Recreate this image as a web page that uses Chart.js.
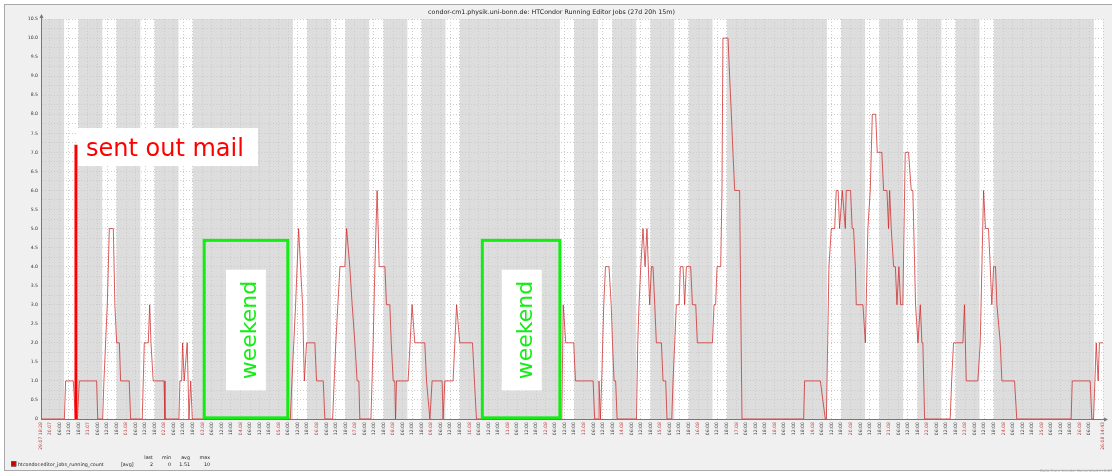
<!DOCTYPE html>
<html>
<head>
<meta charset="utf-8">
<title>HTCondor Running Editor Jobs</title>
<script src="https://cdn.jsdelivr.net/npm/chart.js@4.4.1/dist/chart.umd.min.js"></script>
<style>
  body { margin: 0; background: #fff; }
  canvas { display: block; }
</style>
</head>
<body>
<canvas id="jobsChart" width="1112" height="474"></canvas>
<script>
var hours = [
    0, 14.7, 15.5, 20.3, 21.8, 22.9, 24.1, 35.0, 35.7, 38.8, 39.6, 41.7, 43.0, 45.5, 46.5, 47.6, 49.3, 50.1, 55.5,
    56.4, 63.7, 65.0, 67.5, 68.4, 69.2, 70.6, 77.4, 78.0, 86.8, 87.4, 88.5, 89.1, 90.1, 92.0, 93.1, 94.2, 95.2,
    156.9, 157.9, 160.2, 162.1, 163.3, 164.6, 165.7, 167.1, 172.3, 173.4, 177.6, 178.6, 183.5, 185.5, 186.8, 188.1,
    191.2, 192.3, 194.3, 195.8, 197.5, 198.9, 200.0, 200.6, 207.6, 209.0, 210.1, 211.5, 212.8, 216.4, 217.4, 219.5,
    220.4, 221.6, 222.6, 223.1, 223.7, 231.0, 233.5, 235.2, 241.5, 242.6, 244.7, 246.1, 252.4, 253.0, 254.1, 259.3,
    261.5, 263.5, 271.5, 274.0,
    327.7, 328.6, 330.2, 335.2, 336.3, 347.4, 348.4, 350.5, 351.1, 352.0, 352.8, 354.1, 355.2, 357.4, 358.8, 359.6,
    360.6, 361.6, 362.5, 374.7, 375.5, 376.3, 377.4, 378.8, 380.1, 381.3, 383.0, 384.1, 385.1, 386.2, 387.2, 390.4,
    391.4, 393.1, 393.9, 396.9, 397.7, 399.8, 401.5, 402.3, 404.0, 405.0, 406.1, 408.8, 409.9, 412.0, 413.0, 422.5,
    423.5, 424.5, 425.4, 427.7, 428.5, 429.1, 432.3, 433.3, 434.4, 435.4, 436.5, 439.6, 440.3, 441.1,
    479.9, 480.5, 490.4, 493.5, 494.2, 495.0, 495.8, 497.3, 499.4, 500.4, 501.6, 502.5, 504.2, 506.1, 506.7, 509.4,
    510.4, 511.3, 512.4, 513.0, 517.2, 518.7, 520.3, 521.8, 523.1, 525.2, 526.2, 529.1, 530.2, 532.3, 533.3, 534.0,
    535.0, 536.5, 537.6, 538.6, 539.8, 540.9, 542.3, 543.8, 545.9, 547.6, 548.6, 550.3, 551.8, 553.3, 554.3, 554.9,
    556.0,
    572.1, 573.0, 574.2, 580.1, 581.1, 582.2, 589.5, 591.0, 593.1, 594.3, 596.2, 597.3, 598.3, 599.4, 600.6, 601.5,
    603.6, 604.6, 612.6, 614.0, 648.2, 648.9, 660.2, 661.2, 662.3, 664.0, 665.2, 666.0, 668.25
];
var jobs = [
    0, 0, 1, 1, 0, 0, 1, 1, 0, 0, 1, 3, 5, 5, 3, 2, 2, 1, 1,
    0, 0, 2, 2, 3, 2, 1, 1, 0, 0, 1, 1, 2, 1, 2, 0, 1, 0,
    0, 1, 3, 5, 4, 3, 1, 2, 2, 1, 1, 0, 0, 2, 3, 4,
    4, 5, 4, 3, 2, 1, 1, 0, 0, 2, 4, 6, 4, 4, 3, 3,
    2, 1, 1, 0, 1, 1, 3, 2, 2, 1, 0, 1, 1, 0, 1, 1,
    3, 2, 2, 0,
    0, 3, 2, 2, 1, 1, 0, 0, 1, 0, 1, 3, 4, 4, 3, 2,
    1, 1, 0, 0, 2, 3, 4, 5, 4, 5, 3, 4, 4, 3, 2, 2,
    1, 1, 0, 0, 1, 3, 3, 4, 4, 3, 4, 4, 3, 3, 2, 2,
    3, 3, 4, 4, 6, 10, 10, 9, 8, 7, 6, 6, 3, 0,
    0, 1, 1, 0, 0, 2, 4, 5, 5, 6, 6, 5, 6, 5, 6, 6,
    5, 5, 4, 3, 3, 2, 5, 6, 8, 8, 7, 7, 6, 6, 5, 6,
    5, 4, 4, 3, 4, 3, 3, 7, 7, 6, 6, 3, 2, 3, 2, 2,
    0,
    0, 1, 2, 2, 3, 1, 1, 2, 6, 5, 5, 4, 3, 4, 4, 3,
    2, 1, 1, 0, 0, 1, 1, 0, 0, 2, 1, 2, 2
];

var startUtc = Date.UTC(2019, 6, 29, 18, 28);
var spanHours = 668.25;            // 27d 20h 15m
var firstMidnight = 5 + 32 / 60;   // 30.07 00:00
var workHours = [9, 18];

var legendName = 'htcondor.editor_jobs_running_count';
var legendHeads = ['last', 'min', 'avg', 'max'];
var legendValues = ['2', '0', '1.51', '10'];

// annotations drawn on top (hours / job values)
var mailNote = { at: 22.0, top: 7.2, box: [23.3, 136.5, 6.64, 7.64], textAt: [28.3, 6.9], text: 'sent out mail' };
var weekendBoxes = [[102.7, 155.3], [277.7, 326.5]];
var weekendLabels = [[116.4, 141.5], [289.9, 315.1]];
var weekendTop = 4.69;

function pad(n) { return (n < 10 ? '0' : '') + n; }

function tickLabel(h) {
    var d = new Date(startUtc + h * 3600000);
    var date = pad(d.getUTCDate()) + '.' + pad(d.getUTCMonth() + 1);
    if (h === 0 || h === spanHours) return date + ' ' + pad(d.getUTCHours()) + ':' + pad(d.getUTCMinutes());
    if (d.getUTCHours() === 0) return date;
    return pad(d.getUTCHours()) + ':00';
}

var zabbixLook = {
    id: 'zabbixLook',
    beforeDraw: function (chart) {
        var ctx = chart.ctx, a = chart.chartArea, x = chart.scales.x;
        ctx.save();
        ctx.fillStyle = '#ffffff';
        ctx.fillRect(0, 0, chart.width, chart.height);
        ctx.fillStyle = '#f0f0f0';
        ctx.fillRect(4, 4, chart.width, 466);
        ctx.strokeStyle = '#a9a9a9';
        ctx.lineWidth = 1;
        ctx.strokeRect(4.5, 4.5, chart.width + 10, 466);
        ctx.fillStyle = '#dddddd';
        ctx.fillRect(a.left, a.top, a.right - a.left, a.bottom - a.top);
        ctx.fillStyle = '#ffffff';
        for (var d = 0; d < 29; d++) {
            var day = new Date(Date.UTC(2019, 6, 29 + d)).getUTCDay();
            if (day === 0 || day === 6) continue;
            var mid = firstMidnight + (d - 1) * 24;
            var h1 = Math.max(0, mid + workHours[0]);
            var h2 = Math.min(spanHours, mid + workHours[1]);
            if (h2 <= h1) continue;
            var p1 = x.getPixelForValue(h1), p2 = x.getPixelForValue(h2);
            ctx.fillRect(p1, a.top, p2 - p1, a.bottom - a.top);
        }
        ctx.restore();
    },
    afterDatasetsDraw: function (chart) {
        var ctx = chart.ctx, x = chart.scales.x, y = chart.scales.y;
        var px = function (h) { return x.getPixelForValue(h); };
        var py = function (v) { return y.getPixelForValue(v); };
        ctx.save();
        // weekend boxes
        ctx.strokeStyle = '#11ee11';
        ctx.lineWidth = 3;
        weekendBoxes.forEach(function (b) {
            ctx.strokeRect(px(b[0]), py(weekendTop), px(b[1]) - px(b[0]), py(0.03) - py(weekendTop));
        });
        weekendLabels.forEach(function (b) {
            var l = px(b[0]), r = px(b[1]), t = py(3.92), btm = py(0.75);
            ctx.fillStyle = '#ffffff';
            ctx.fillRect(l, t, r - l, btm - t);
            ctx.save();
            ctx.translate(r - 9.5, (t + btm) / 2);
            ctx.rotate(-Math.PI / 2);
            ctx.font = '22px "DejaVu Sans"';
            ctx.fillStyle = '#11ee11';
            ctx.textAlign = 'center';
            ctx.textBaseline = 'alphabetic';
            ctx.fillText('weekend', 0, 0);
            ctx.restore();
        });
        // mail marker
        ctx.strokeStyle = '#ff0000';
        ctx.lineWidth = 3;
        ctx.beginPath();
        ctx.moveTo(px(mailNote.at), py(mailNote.top));
        ctx.lineTo(px(mailNote.at), py(0));
        ctx.stroke();
        var mb = mailNote.box;
        ctx.fillStyle = '#ffffff';
        ctx.fillRect(px(mb[0]), py(mb[3]), px(mb[1]) - px(mb[0]), py(mb[2]) - py(mb[3]));
        ctx.fillStyle = '#ff0000';
        ctx.font = '24px "DejaVu Sans"';
        ctx.textBaseline = 'alphabetic';
        ctx.fillText(mailNote.text, px(mailNote.textAt[0]), py(mailNote.textAt[1]));
        ctx.restore();
    },
    afterDraw: function (chart) {
        var ctx = chart.ctx, a = chart.chartArea;
        ctx.save();
        // axis arrows
        ctx.strokeStyle = '#777';
        ctx.fillStyle = '#777';
        ctx.lineWidth = 1;
        ctx.beginPath();
        ctx.moveTo(a.left + 0.5, a.bottom);
        ctx.lineTo(a.left + 0.5, a.top - 3);
        ctx.moveTo(a.left, a.bottom + 0.5);
        ctx.lineTo(a.right + 3, a.bottom + 0.5);
        ctx.stroke();
        ctx.beginPath();
        ctx.moveTo(a.left + 0.5, a.top - 5);
        ctx.lineTo(a.left - 1.5, a.top - 1);
        ctx.lineTo(a.left + 2.5, a.top - 1);
        ctx.fill();
        ctx.beginPath();
        ctx.moveTo(a.right + 5, a.bottom + 0.5);
        ctx.lineTo(a.right + 1, a.bottom - 1.5);
        ctx.lineTo(a.right + 1, a.bottom + 2.5);
        ctx.fill();
        // legend table
        ctx.fillStyle = '#c80000';
        ctx.fillRect(11, 461.5, 5, 5);
        ctx.strokeStyle = '#555';
        ctx.strokeRect(11.5, 461.5, 4.5, 4.5);
        ctx.fillStyle = '#222';
        ctx.font = '4.8px "DejaVu Sans"';
        ctx.textBaseline = 'middle';
        ctx.textAlign = 'left';
        ctx.fillText(legendName, 18, 464.3);
        ctx.fillText('[avg]', 121, 464.3);
        ctx.textAlign = 'right';
        var cols = [153, 171, 190, 210];
        legendHeads.forEach(function (t, i) { ctx.fillText(t, cols[i], 457.5); });
        legendValues.forEach(function (t, i) { ctx.fillText(t, cols[i], 464.3); });
        // footer
        ctx.textAlign = 'left';
        ctx.fillStyle = '#b4b4b4';
        ctx.font = '4px "DejaVu Sans"';
        ctx.fillText('Data from trends. Generated in 0.25 sec', 1040, 471);
        ctx.restore();
    }
};

Chart.defaults.font.family = '"DejaVu Sans", sans-serif';
Chart.defaults.animation = false;

var ctx1 = document.getElementById('jobsChart').getContext('2d');
var jobsChart = new Chart(ctx1, {
    type: 'line',
    data: {
        datasets: [{
            label: legendName,
            data: hours.map(function (h, i) { return { x: h, y: jobs[i] }; }),
            borderColor: 'rgba(205, 40, 40, 0.75)',
            borderWidth: 1,
            pointRadius: 0,
            tension: 0,
            fill: false
        }]
    },
    options: {
        responsive: false,
        layout: { padding: { top: 0, right: 9, left: 0, bottom: 0 } },
        plugins: {
            legend: { display: false },
            tooltip: { enabled: false },
            title: {
                display: true,
                text: 'condor-cm1.physik.uni-bonn.de: HTCondor Running Editor Jobs (27d 20h 15m)',
                color: '#222',
                font: { size: 6.3, weight: 'normal' },
                padding: { top: 9, bottom: 2.5 }
            }
        },
        scales: {
            x: {
                type: 'linear',
                min: 0,
                max: spanHours,
                afterBuildTicks: function (scale) {
                    var ticks = [{ value: 0 }];
                    for (var h = firstMidnight; h < spanHours - 3; h += 6) ticks.push({ value: h });
                    ticks.push({ value: spanHours });
                    scale.ticks = ticks;
                },
                afterFit: function (scale) { scale.height = 55; },
                ticks: {
                    autoSkip: false,
                    minRotation: 90,
                    maxRotation: 90,
                    padding: 3,
                    font: { size: 4.6 },
                    color: function (c) {
                        return c.tick && String(c.tick.label).indexOf('.') > 0 ? '#b84040' : '#444';
                    },
                    callback: function (v) { return tickLabel(v); }
                },
                grid: { color: '#cbcbcb', lineWidth: 1, drawTicks: false },
                border: { display: true, color: '#777', dash: [1, 2] }
            },
            y: {
                min: 0,
                max: 10.5,
                afterFit: function (scale) { scale.width = 41; },
                ticks: {
                    stepSize: 0.25,
                    maxTicksLimit: 43,
                    autoSkip: false,
                    padding: 3,
                    color: '#333',
                    font: { size: 4.6 },
                    callback: function (v) {
                        if (Math.abs(v * 2 - Math.round(v * 2)) > 1e-6) return '';
                        return v === 0 ? '0' : v.toFixed(1);
                    }
                },
                grid: { color: '#cbcbcb', lineWidth: 1, drawTicks: false },
                border: { display: true, color: '#777', dash: [1, 2] }
            }
        }
    },
    plugins: [zabbixLook]
});
</script>
</body>
</html>
